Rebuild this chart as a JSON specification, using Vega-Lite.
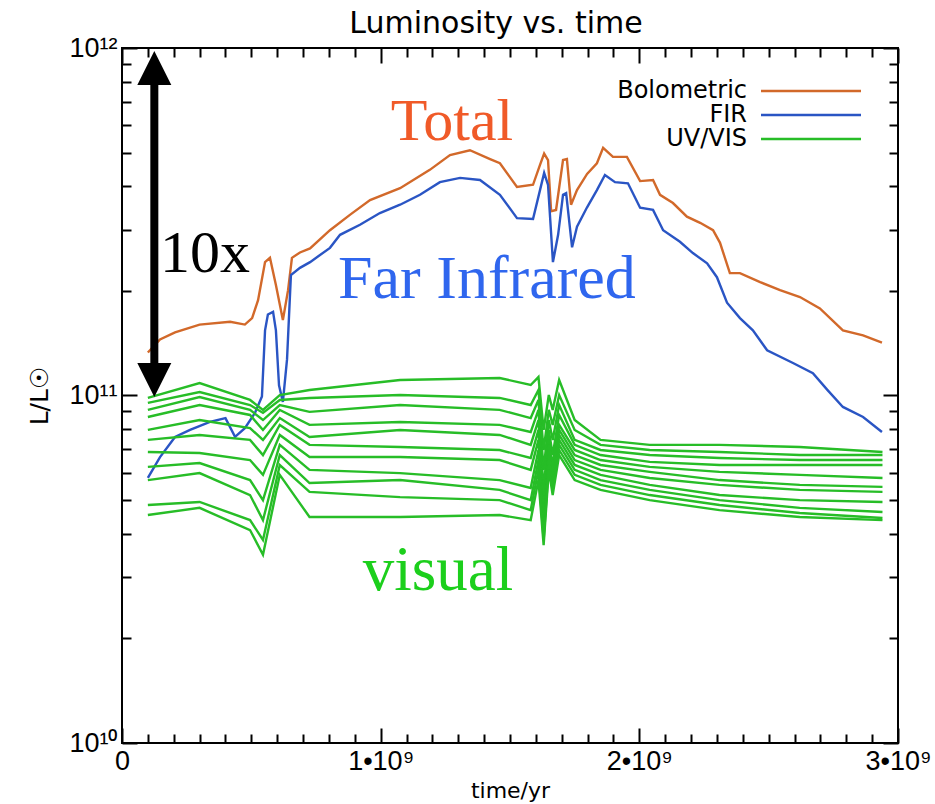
{
  "$schema": "https://vega.github.io/schema/vega-lite/v6.json",
  "width": 776,
  "height": 695,
  "autosize": {"type": "none"},
  "padding": {"left": 122, "top": 48, "right": 37, "bottom": 61},
  "background": "white",
  "title": {"text": "Luminosity vs. time", "font": "DejaVu Sans", "fontSize": 30, "fontWeight": "normal", "color": "black", "offset": -5, "dx": -14, "anchor": "middle"},
  "config": {"view": {"stroke": "black", "strokeWidth": 2}, "font": "DejaVu Sans"},
  "resolve": {"axis": {"x": "independent", "y": "independent"}},
  "layer": [
    {
      "data": {"values": [
        {"series":"Bolometric","band":"B","t":1e8,"L":1.33e11},
        {"series":"Bolometric","band":"B","t":1.47e8,"L":1.45e11},
        {"series":"Bolometric","band":"B","t":2.05e8,"L":1.52e11},
        {"series":"Bolometric","band":"B","t":3.0e8,"L":1.60e11},
        {"series":"Bolometric","band":"B","t":4.18e8,"L":1.63e11},
        {"series":"Bolometric","band":"B","t":4.75e8,"L":1.60e11},
        {"series":"Bolometric","band":"B","t":5.03e8,"L":1.67e11},
        {"series":"Bolometric","band":"B","t":5.26e8,"L":1.88e11},
        {"series":"Bolometric","band":"B","t":5.53e8,"L":2.42e11},
        {"series":"Bolometric","band":"B","t":5.72e8,"L":2.49e11},
        {"series":"Bolometric","band":"B","t":5.95e8,"L":2.08e11},
        {"series":"Bolometric","band":"B","t":6.22e8,"L":1.65e11},
        {"series":"Bolometric","band":"B","t":6.42e8,"L":2.01e11},
        {"series":"Bolometric","band":"B","t":6.57e8,"L":2.49e11},
        {"series":"Bolometric","band":"B","t":6.88e8,"L":2.58e11},
        {"series":"Bolometric","band":"B","t":7.27e8,"L":2.65e11},
        {"series":"Bolometric","band":"B","t":8.04e8,"L":2.99e11},
        {"series":"Bolometric","band":"B","t":8.81e8,"L":3.31e11},
        {"series":"Bolometric","band":"B","t":9.59e8,"L":3.65e11},
        {"series":"Bolometric","band":"B","t":1.075e9,"L":3.95e11},
        {"series":"Bolometric","band":"B","t":1.19e9,"L":4.46e11},
        {"series":"Bolometric","band":"B","t":1.268e9,"L":4.92e11},
        {"series":"Bolometric","band":"B","t":1.345e9,"L":5.08e11},
        {"series":"Bolometric","band":"B","t":1.423e9,"L":4.79e11},
        {"series":"Bolometric","band":"B","t":1.461e9,"L":4.66e11},
        {"series":"Bolometric","band":"B","t":1.527e9,"L":3.98e11},
        {"series":"Bolometric","band":"B","t":1.589e9,"L":4.04e11},
        {"series":"Bolometric","band":"B","t":1.616e9,"L":4.61e11},
        {"series":"Bolometric","band":"B","t":1.632e9,"L":4.97e11},
        {"series":"Bolometric","band":"B","t":1.647e9,"L":4.76e11},
        {"series":"Bolometric","band":"B","t":1.659e9,"L":3.39e11},
        {"series":"Bolometric","band":"B","t":1.678e9,"L":3.42e11},
        {"series":"Bolometric","band":"B","t":1.705e9,"L":4.76e11},
        {"series":"Bolometric","band":"B","t":1.72e9,"L":4.79e11},
        {"series":"Bolometric","band":"B","t":1.736e9,"L":3.54e11},
        {"series":"Bolometric","band":"B","t":1.759e9,"L":3.90e11},
        {"series":"Bolometric","band":"B","t":1.798e9,"L":4.34e11},
        {"series":"Bolometric","band":"B","t":1.836e9,"L":4.66e11},
        {"series":"Bolometric","band":"B","t":1.86e9,"L":5.16e11},
        {"series":"Bolometric","band":"B","t":1.898e9,"L":4.86e11},
        {"series":"Bolometric","band":"B","t":1.952e9,"L":4.86e11},
        {"series":"Bolometric","band":"B","t":2.003e9,"L":4.14e11},
        {"series":"Bolometric","band":"B","t":2.053e9,"L":4.17e11},
        {"series":"Bolometric","band":"B","t":2.08e9,"L":3.78e11},
        {"series":"Bolometric","band":"B","t":2.13e9,"L":3.58e11},
        {"series":"Bolometric","band":"B","t":2.184e9,"L":3.27e11},
        {"series":"Bolometric","band":"B","t":2.235e9,"L":3.14e11},
        {"series":"Bolometric","band":"B","t":2.285e9,"L":2.99e11},
        {"series":"Bolometric","band":"B","t":2.312e9,"L":2.75e11},
        {"series":"Bolometric","band":"B","t":2.35e9,"L":2.25e11},
        {"series":"Bolometric","band":"B","t":2.389e9,"L":2.25e11},
        {"series":"Bolometric","band":"B","t":2.467e9,"L":2.12e11},
        {"series":"Bolometric","band":"B","t":2.544e9,"L":2.01e11},
        {"series":"Bolometric","band":"B","t":2.621e9,"L":1.92e11},
        {"series":"Bolometric","band":"B","t":2.698e9,"L":1.78e11},
        {"series":"Bolometric","band":"B","t":2.787e9,"L":1.54e11},
        {"series":"Bolometric","band":"B","t":2.865e9,"L":1.49e11},
        {"series":"Bolometric","band":"B","t":2.938e9,"L":1.42e11},

        {"series":"FIR","band":"F","t":1e8,"L":5.79e10},
        {"series":"FIR","band":"F","t":1.47e8,"L":6.65e10},
        {"series":"FIR","band":"F","t":2.05e8,"L":7.60e10},
        {"series":"FIR","band":"F","t":2.63e8,"L":7.96e10},
        {"series":"FIR","band":"F","t":3.4e8,"L":8.40e10},
        {"series":"FIR","band":"F","t":4.0e8,"L":8.61e10},
        {"series":"FIR","band":"F","t":4.37e8,"L":7.60e10},
        {"series":"FIR","band":"F","t":4.75e8,"L":8.05e10},
        {"series":"FIR","band":"F","t":5.14e8,"L":8.91e10},
        {"series":"FIR","band":"F","t":5.41e8,"L":9.94e10},
        {"series":"FIR","band":"F","t":5.53e8,"L":1.54e11},
        {"series":"FIR","band":"F","t":5.64e8,"L":1.71e11},
        {"series":"FIR","band":"F","t":5.84e8,"L":1.74e11},
        {"series":"FIR","band":"F","t":5.95e8,"L":1.54e11},
        {"series":"FIR","band":"F","t":6.07e8,"L":1.07e11},
        {"series":"FIR","band":"F","t":6.22e8,"L":9.58e10},
        {"series":"FIR","band":"F","t":6.38e8,"L":1.27e11},
        {"series":"FIR","band":"F","t":6.53e8,"L":2.22e11},
        {"series":"FIR","band":"F","t":6.88e8,"L":2.33e11},
        {"series":"FIR","band":"F","t":7.27e8,"L":2.42e11},
        {"series":"FIR","band":"F","t":8.04e8,"L":2.66e11},
        {"series":"FIR","band":"F","t":8.43e8,"L":2.90e11},
        {"series":"FIR","band":"F","t":9.2e8,"L":3.10e11},
        {"series":"FIR","band":"F","t":9.97e8,"L":3.35e11},
        {"series":"FIR","band":"F","t":1.075e9,"L":3.54e11},
        {"series":"FIR","band":"F","t":1.152e9,"L":3.78e11},
        {"series":"FIR","band":"F","t":1.229e9,"L":4.11e11},
        {"series":"FIR","band":"F","t":1.307e9,"L":4.23e11},
        {"series":"FIR","band":"F","t":1.384e9,"L":4.17e11},
        {"series":"FIR","band":"F","t":1.461e9,"L":3.78e11},
        {"series":"FIR","band":"F","t":1.527e9,"L":3.24e11},
        {"series":"FIR","band":"F","t":1.589e9,"L":3.22e11},
        {"series":"FIR","band":"F","t":1.616e9,"L":3.90e11},
        {"series":"FIR","band":"F","t":1.632e9,"L":4.37e11},
        {"series":"FIR","band":"F","t":1.647e9,"L":4.04e11},
        {"series":"FIR","band":"F","t":1.666e9,"L":2.42e11},
        {"series":"FIR","band":"F","t":1.686e9,"L":2.90e11},
        {"series":"FIR","band":"F","t":1.705e9,"L":3.78e11},
        {"series":"FIR","band":"F","t":1.717e9,"L":3.82e11},
        {"series":"FIR","band":"F","t":1.74e9,"L":2.67e11},
        {"series":"FIR","band":"F","t":1.759e9,"L":3.06e11},
        {"series":"FIR","band":"F","t":1.798e9,"L":3.48e11},
        {"series":"FIR","band":"F","t":1.836e9,"L":3.90e11},
        {"series":"FIR","band":"F","t":1.867e9,"L":4.31e11},
        {"series":"FIR","band":"F","t":1.906e9,"L":4.11e11},
        {"series":"FIR","band":"F","t":1.956e9,"L":4.08e11},
        {"series":"FIR","band":"F","t":2.003e9,"L":3.47e11},
        {"series":"FIR","band":"F","t":2.053e9,"L":3.42e11},
        {"series":"FIR","band":"F","t":2.092e9,"L":2.99e11},
        {"series":"FIR","band":"F","t":2.157e9,"L":2.77e11},
        {"series":"FIR","band":"F","t":2.207e9,"L":2.57e11},
        {"series":"FIR","band":"F","t":2.262e9,"L":2.40e11},
        {"series":"FIR","band":"F","t":2.3e9,"L":2.19e11},
        {"series":"FIR","band":"F","t":2.339e9,"L":1.85e11},
        {"series":"FIR","band":"F","t":2.389e9,"L":1.67e11},
        {"series":"FIR","band":"F","t":2.439e9,"L":1.54e11},
        {"series":"FIR","band":"F","t":2.494e9,"L":1.35e11},
        {"series":"FIR","band":"F","t":2.594e9,"L":1.24e11},
        {"series":"FIR","band":"F","t":2.671e9,"L":1.16e11},
        {"series":"FIR","band":"F","t":2.726e9,"L":1.04e11},
        {"series":"FIR","band":"F","t":2.787e9,"L":9.27e10},
        {"series":"FIR","band":"F","t":2.865e9,"L":8.67e10},
        {"series":"FIR","band":"F","t":2.938e9,"L":7.85e10},

        {"series":"UV/VIS","band":"G1","t":1e8,"L":9.84e10},{"series":"UV/VIS","band":"G1","t":3e8,"L":1.086e11},{"series":"UV/VIS","band":"G1","t":4.95e8,"L":9.71e10},{"series":"UV/VIS","band":"G1","t":5.45e8,"L":9.09e10},{"series":"UV/VIS","band":"G1","t":6.1e8,"L":1.003e11},{"series":"UV/VIS","band":"G1","t":7.25e8,"L":1.037e11},{"series":"UV/VIS","band":"G1","t":1.075e9,"L":1.108e11},{"series":"UV/VIS","band":"G1","t":1.46e9,"L":1.123e11},{"series":"UV/VIS","band":"G1","t":1.58e9,"L":1.072e11},{"series":"UV/VIS","band":"G1","t":1.61e9,"L":1.13e11},{"series":"UV/VIS","band":"G1","t":1.63e9,"L":7.96e10},{"series":"UV/VIS","band":"G1","t":1.65e9,"L":1.003e11},{"series":"UV/VIS","band":"G1","t":1.665e9,"L":9.09e10},{"series":"UV/VIS","band":"G1","t":1.69e9,"L":1.108e11},{"series":"UV/VIS","band":"G1","t":1.75e9,"L":8.5e10},{"series":"UV/VIS","band":"G1","t":1.85e9,"L":7.45e10},{"series":"UV/VIS","band":"G1","t":2.04e9,"L":7.21e10},{"series":"UV/VIS","band":"G1","t":2.31e9,"L":7.21e10},{"series":"UV/VIS","band":"G1","t":2.62e9,"L":7.11e10},{"series":"UV/VIS","band":"G1","t":2.94e9,"L":6.88e10},

        {"series":"UV/VIS","band":"G2","t":1e8,"L":9.52e10},{"series":"UV/VIS","band":"G2","t":3e8,"L":1.023e11},{"series":"UV/VIS","band":"G2","t":4.95e8,"L":9.39e10},{"series":"UV/VIS","band":"G2","t":5.45e8,"L":8.91e10},{"series":"UV/VIS","band":"G2","t":6.1e8,"L":9.71e10},{"series":"UV/VIS","band":"G2","t":7.25e8,"L":9.84e10},{"series":"UV/VIS","band":"G2","t":1.075e9,"L":1.003e11},{"series":"UV/VIS","band":"G2","t":1.46e9,"L":9.84e10},{"series":"UV/VIS","band":"G2","t":1.58e9,"L":9.39e10},{"series":"UV/VIS","band":"G2","t":1.61e9,"L":1.037e11},{"series":"UV/VIS","band":"G2","t":1.63e9,"L":6.97e10},{"series":"UV/VIS","band":"G2","t":1.65e9,"L":9.09e10},{"series":"UV/VIS","band":"G2","t":1.665e9,"L":8.23e10},{"series":"UV/VIS","band":"G2","t":1.69e9,"L":1.003e11},{"series":"UV/VIS","band":"G2","t":1.75e9,"L":7.96e10},{"series":"UV/VIS","band":"G2","t":1.85e9,"L":7.21e10},{"series":"UV/VIS","band":"G2","t":2.04e9,"L":6.97e10},{"series":"UV/VIS","band":"G2","t":2.31e9,"L":6.88e10},{"series":"UV/VIS","band":"G2","t":2.62e9,"L":6.74e10},{"series":"UV/VIS","band":"G2","t":2.94e9,"L":6.74e10},

        {"series":"UV/VIS","band":"G3","t":1e8,"L":9.09e10},{"series":"UV/VIS","band":"G3","t":3e8,"L":9.9e10},{"series":"UV/VIS","band":"G3","t":4.95e8,"L":9.09e10},{"series":"UV/VIS","band":"G3","t":5.45e8,"L":8.5e10},{"series":"UV/VIS","band":"G3","t":6.1e8,"L":9.39e10},{"series":"UV/VIS","band":"G3","t":7.25e8,"L":8.97e10},{"series":"UV/VIS","band":"G3","t":1.075e9,"L":9.39e10},{"series":"UV/VIS","band":"G3","t":1.46e9,"L":9.09e10},{"series":"UV/VIS","band":"G3","t":1.58e9,"L":8.61e10},{"series":"UV/VIS","band":"G3","t":1.61e9,"L":9.71e10},{"series":"UV/VIS","band":"G3","t":1.63e9,"L":6.11e10},{"series":"UV/VIS","band":"G3","t":1.65e9,"L":8.5e10},{"series":"UV/VIS","band":"G3","t":1.665e9,"L":7.45e10},{"series":"UV/VIS","band":"G3","t":1.69e9,"L":9.39e10},{"series":"UV/VIS","band":"G3","t":1.75e9,"L":7.45e10},{"series":"UV/VIS","band":"G3","t":1.85e9,"L":6.97e10},{"series":"UV/VIS","band":"G3","t":2.04e9,"L":6.74e10},{"series":"UV/VIS","band":"G3","t":2.31e9,"L":6.61e10},{"series":"UV/VIS","band":"G3","t":2.62e9,"L":6.52e10},{"series":"UV/VIS","band":"G3","t":2.94e9,"L":6.52e10},

        {"series":"UV/VIS","band":"G4","t":1e8,"L":8.67e10},{"series":"UV/VIS","band":"G4","t":3e8,"L":9.39e10},{"series":"UV/VIS","band":"G4","t":4.95e8,"L":8.79e10},{"series":"UV/VIS","band":"G4","t":5.45e8,"L":7.96e10},{"series":"UV/VIS","band":"G4","t":6.1e8,"L":9.09e10},{"series":"UV/VIS","band":"G4","t":7.25e8,"L":8.23e10},{"series":"UV/VIS","band":"G4","t":1.075e9,"L":8.39e10},{"series":"UV/VIS","band":"G4","t":1.46e9,"L":8.23e10},{"series":"UV/VIS","band":"G4","t":1.58e9,"L":7.85e10},{"series":"UV/VIS","band":"G4","t":1.61e9,"L":9.09e10},{"series":"UV/VIS","band":"G4","t":1.63e9,"L":5.35e10},{"series":"UV/VIS","band":"G4","t":1.65e9,"L":7.96e10},{"series":"UV/VIS","band":"G4","t":1.665e9,"L":6.74e10},{"series":"UV/VIS","band":"G4","t":1.69e9,"L":8.79e10},{"series":"UV/VIS","band":"G4","t":1.75e9,"L":7.21e10},{"series":"UV/VIS","band":"G4","t":1.85e9,"L":6.74e10},{"series":"UV/VIS","band":"G4","t":2.04e9,"L":6.44e10},{"series":"UV/VIS","band":"G4","t":2.31e9,"L":6.31e10},{"series":"UV/VIS","band":"G4","t":2.62e9,"L":6.31e10},{"series":"UV/VIS","band":"G4","t":2.94e9,"L":6.31e10},

        {"series":"UV/VIS","band":"G5","t":1e8,"L":7.96e10},{"series":"UV/VIS","band":"G5","t":3e8,"L":8.5e10},{"series":"UV/VIS","band":"G5","t":4.95e8,"L":8.06e10},{"series":"UV/VIS","band":"G5","t":5.45e8,"L":7.45e10},{"series":"UV/VIS","band":"G5","t":6.1e8,"L":8.61e10},{"series":"UV/VIS","band":"G5","t":7.25e8,"L":7.6e10},{"series":"UV/VIS","band":"G5","t":1.075e9,"L":7.96e10},{"series":"UV/VIS","band":"G5","t":1.46e9,"L":7.7e10},{"series":"UV/VIS","band":"G5","t":1.58e9,"L":7.21e10},{"series":"UV/VIS","band":"G5","t":1.61e9,"L":8.5e10},{"series":"UV/VIS","band":"G5","t":1.63e9,"L":4.84e10},{"series":"UV/VIS","band":"G5","t":1.65e9,"L":7.45e10},{"series":"UV/VIS","band":"G5","t":1.665e9,"L":6.31e10},{"series":"UV/VIS","band":"G5","t":1.69e9,"L":8.23e10},{"series":"UV/VIS","band":"G5","t":1.75e9,"L":6.97e10},{"series":"UV/VIS","band":"G5","t":1.85e9,"L":6.52e10},{"series":"UV/VIS","band":"G5","t":2.04e9,"L":6.23e10},{"series":"UV/VIS","band":"G5","t":2.31e9,"L":6.03e10},{"series":"UV/VIS","band":"G5","t":2.62e9,"L":5.91e10},{"series":"UV/VIS","band":"G5","t":2.94e9,"L":5.79e10},

        {"series":"UV/VIS","band":"G6","t":1e8,"L":7.45e10},{"series":"UV/VIS","band":"G6","t":3e8,"L":7.7e10},{"series":"UV/VIS","band":"G6","t":4.95e8,"L":7.45e10},{"series":"UV/VIS","band":"G6","t":5.45e8,"L":6.74e10},{"series":"UV/VIS","band":"G6","t":6.1e8,"L":8.23e10},{"series":"UV/VIS","band":"G6","t":7.25e8,"L":7.21e10},{"series":"UV/VIS","band":"G6","t":1.075e9,"L":7.11e10},{"series":"UV/VIS","band":"G6","t":1.46e9,"L":6.97e10},{"series":"UV/VIS","band":"G6","t":1.58e9,"L":6.61e10},{"series":"UV/VIS","band":"G6","t":1.61e9,"L":7.96e10},{"series":"UV/VIS","band":"G6","t":1.63e9,"L":4.53e10},{"series":"UV/VIS","band":"G6","t":1.65e9,"L":7.21e10},{"series":"UV/VIS","band":"G6","t":1.665e9,"L":6.11e10},{"series":"UV/VIS","band":"G6","t":1.69e9,"L":7.96e10},{"series":"UV/VIS","band":"G6","t":1.75e9,"L":6.74e10},{"series":"UV/VIS","band":"G6","t":1.85e9,"L":6.31e10},{"series":"UV/VIS","band":"G6","t":2.04e9,"L":6.03e10},{"series":"UV/VIS","band":"G6","t":2.31e9,"L":5.71e10},{"series":"UV/VIS","band":"G6","t":2.62e9,"L":5.53e10},{"series":"UV/VIS","band":"G6","t":2.94e9,"L":5.46e10},

        {"series":"UV/VIS","band":"G7","t":1e8,"L":6.88e10},{"series":"UV/VIS","band":"G7","t":3e8,"L":6.83e10},{"series":"UV/VIS","band":"G7","t":4.95e8,"L":6.52e10},{"series":"UV/VIS","band":"G7","t":5.45e8,"L":5.91e10},{"series":"UV/VIS","band":"G7","t":6.1e8,"L":7.7e10},{"series":"UV/VIS","band":"G7","t":7.25e8,"L":6.65e10},{"series":"UV/VIS","band":"G7","t":1.075e9,"L":6.65e10},{"series":"UV/VIS","band":"G7","t":1.46e9,"L":6.52e10},{"series":"UV/VIS","band":"G7","t":1.58e9,"L":6.11e10},{"series":"UV/VIS","band":"G7","t":1.61e9,"L":7.45e10},{"series":"UV/VIS","band":"G7","t":1.63e9,"L":4.24e10},{"series":"UV/VIS","band":"G7","t":1.65e9,"L":6.97e10},{"series":"UV/VIS","band":"G7","t":1.665e9,"L":5.91e10},{"series":"UV/VIS","band":"G7","t":1.69e9,"L":7.7e10},{"series":"UV/VIS","band":"G7","t":1.75e9,"L":6.52e10},{"series":"UV/VIS","band":"G7","t":1.85e9,"L":6.11e10},{"series":"UV/VIS","band":"G7","t":2.04e9,"L":5.79e10},{"series":"UV/VIS","band":"G7","t":2.31e9,"L":5.53e10},{"series":"UV/VIS","band":"G7","t":2.62e9,"L":5.35e10},{"series":"UV/VIS","band":"G7","t":2.94e9,"L":5.28e10},

        {"series":"UV/VIS","band":"G8","t":1e8,"L":6.23e10},{"series":"UV/VIS","band":"G8","t":3e8,"L":6.39e10},{"series":"UV/VIS","band":"G8","t":4.95e8,"L":5.71e10},{"series":"UV/VIS","band":"G8","t":5.45e8,"L":5.0e10},{"series":"UV/VIS","band":"G8","t":6.1e8,"L":7.21e10},{"series":"UV/VIS","band":"G8","t":7.25e8,"L":6.11e10},{"series":"UV/VIS","band":"G8","t":1.075e9,"L":5.98e10},{"series":"UV/VIS","band":"G8","t":1.46e9,"L":5.71e10},{"series":"UV/VIS","band":"G8","t":1.58e9,"L":5.42e10},{"series":"UV/VIS","band":"G8","t":1.61e9,"L":6.97e10},{"series":"UV/VIS","band":"G8","t":1.63e9,"L":4.1e10},{"series":"UV/VIS","band":"G8","t":1.65e9,"L":6.74e10},{"series":"UV/VIS","band":"G8","t":1.665e9,"L":5.71e10},{"series":"UV/VIS","band":"G8","t":1.69e9,"L":7.45e10},{"series":"UV/VIS","band":"G8","t":1.75e9,"L":6.31e10},{"series":"UV/VIS","band":"G8","t":1.85e9,"L":5.91e10},{"series":"UV/VIS","band":"G8","t":2.04e9,"L":5.53e10},{"series":"UV/VIS","band":"G8","t":2.31e9,"L":5.17e10},{"series":"UV/VIS","band":"G8","t":2.62e9,"L":5.0e10},{"series":"UV/VIS","band":"G8","t":2.94e9,"L":4.94e10},

        {"series":"UV/VIS","band":"G9","t":1e8,"L":5.71e10},{"series":"UV/VIS","band":"G9","t":3e8,"L":5.98e10},{"series":"UV/VIS","band":"G9","t":4.95e8,"L":5.17e10},{"series":"UV/VIS","band":"G9","t":5.45e8,"L":4.38e10},{"series":"UV/VIS","band":"G9","t":6.1e8,"L":6.74e10},{"series":"UV/VIS","band":"G9","t":7.25e8,"L":5.6e10},{"series":"UV/VIS","band":"G9","t":1.075e9,"L":5.71e10},{"series":"UV/VIS","band":"G9","t":1.46e9,"L":5.35e10},{"series":"UV/VIS","band":"G9","t":1.58e9,"L":5.0e10},{"series":"UV/VIS","band":"G9","t":1.61e9,"L":6.52e10},{"series":"UV/VIS","band":"G9","t":1.63e9,"L":3.97e10},{"series":"UV/VIS","band":"G9","t":1.65e9,"L":6.52e10},{"series":"UV/VIS","band":"G9","t":1.665e9,"L":5.53e10},{"series":"UV/VIS","band":"G9","t":1.69e9,"L":7.21e10},{"series":"UV/VIS","band":"G9","t":1.75e9,"L":6.11e10},{"series":"UV/VIS","band":"G9","t":1.85e9,"L":5.71e10},{"series":"UV/VIS","band":"G9","t":2.04e9,"L":5.35e10},{"series":"UV/VIS","band":"G9","t":2.31e9,"L":5.0e10},{"series":"UV/VIS","band":"G9","t":2.62e9,"L":4.75e10},{"series":"UV/VIS","band":"G9","t":2.94e9,"L":4.62e10},

        {"series":"UV/VIS","band":"G10","t":1e8,"L":4.84e10},{"series":"UV/VIS","band":"G10","t":3e8,"L":4.94e10},{"series":"UV/VIS","band":"G10","t":4.95e8,"L":4.38e10},{"series":"UV/VIS","band":"G10","t":5.45e8,"L":3.84e10},{"series":"UV/VIS","band":"G10","t":6.1e8,"L":6.31e10},{"series":"UV/VIS","band":"G10","t":7.25e8,"L":5.28e10},{"series":"UV/VIS","band":"G10","t":1.075e9,"L":5.1e10},{"series":"UV/VIS","band":"G10","t":1.46e9,"L":5.0e10},{"series":"UV/VIS","band":"G10","t":1.58e9,"L":4.68e10},{"series":"UV/VIS","band":"G10","t":1.61e9,"L":6.11e10},{"series":"UV/VIS","band":"G10","t":1.63e9,"L":3.84e10},{"series":"UV/VIS","band":"G10","t":1.65e9,"L":6.31e10},{"series":"UV/VIS","band":"G10","t":1.665e9,"L":5.35e10},{"series":"UV/VIS","band":"G10","t":1.69e9,"L":6.97e10},{"series":"UV/VIS","band":"G10","t":1.75e9,"L":5.91e10},{"series":"UV/VIS","band":"G10","t":1.85e9,"L":5.53e10},{"series":"UV/VIS","band":"G10","t":2.04e9,"L":5.17e10},{"series":"UV/VIS","band":"G10","t":2.31e9,"L":4.84e10},{"series":"UV/VIS","band":"G10","t":2.62e9,"L":4.59e10},{"series":"UV/VIS","band":"G10","t":2.94e9,"L":4.44e10},

        {"series":"UV/VIS","band":"G11","t":1e8,"L":4.53e10},{"series":"UV/VIS","band":"G11","t":3e8,"L":4.75e10},{"series":"UV/VIS","band":"G11","t":4.95e8,"L":4.1e10},{"series":"UV/VIS","band":"G11","t":5.45e8,"L":3.48e10},{"series":"UV/VIS","band":"G11","t":6.1e8,"L":5.91e10},{"series":"UV/VIS","band":"G11","t":7.25e8,"L":4.47e10},{"series":"UV/VIS","band":"G11","t":1.075e9,"L":4.47e10},{"series":"UV/VIS","band":"G11","t":1.46e9,"L":4.53e10},{"series":"UV/VIS","band":"G11","t":1.58e9,"L":4.38e10},{"series":"UV/VIS","band":"G11","t":1.61e9,"L":5.71e10},{"series":"UV/VIS","band":"G11","t":1.63e9,"L":3.71e10},{"series":"UV/VIS","band":"G11","t":1.65e9,"L":6.11e10},{"series":"UV/VIS","band":"G11","t":1.665e9,"L":5.17e10},{"series":"UV/VIS","band":"G11","t":1.69e9,"L":6.74e10},{"series":"UV/VIS","band":"G11","t":1.75e9,"L":5.71e10},{"series":"UV/VIS","band":"G11","t":1.85e9,"L":5.35e10},{"series":"UV/VIS","band":"G11","t":2.04e9,"L":5.0e10},{"series":"UV/VIS","band":"G11","t":2.31e9,"L":4.68e10},{"series":"UV/VIS","band":"G11","t":2.62e9,"L":4.47e10},{"series":"UV/VIS","band":"G11","t":2.94e9,"L":4.38e10}
      ]},
      "mark": {"type": "line", "strokeWidth": 2.4, "interpolate": "linear"},
      "encoding": {
        "x": {"field": "t", "type": "quantitative", "scale": {"domain": [0, 3000000000], "nice": false, "zero": false},
          "axis": {"orient": "bottom", "values": [0,1e8,2e8,3e8,4e8,5e8,6e8,7e8,8e8,9e8,1e9,1.1e9,1.2e9,1.3e9,1.4e9,1.5e9,1.6e9,1.7e9,1.8e9,1.9e9,2e9,2.1e9,2.2e9,2.3e9,2.4e9,2.5e9,2.6e9,2.7e9,2.8e9,2.9e9,3e9],
            "labelExpr": "datum.value % 1000000000 === 0 ? (datum.value === 0 ? '0' : (datum.value / 1000000000) + '•10⁹') : ''",
            "tickSize": {"condition": {"test": "datum.value % 1000000000 === 0", "value": -15}, "value": -9},
            "tickColor": "black", "tickWidth": 2, "domain": false, "grid": false,
            "labelFont": "Liberation Sans", "labelFontSize": 27, "labelColor": "black", "labelPadding": 20,
            "labelOverlap": false, "labelFlush": false, "labelBound": false,
            "title": "time/yr", "titleFont": "DejaVu Sans", "titleFontSize": 22, "titleFontWeight": "normal", "titleColor": "black", "titlePadding": 0}},
        "y": {"field": "L", "type": "quantitative", "scale": {"type": "log", "domain": [10000000000, 1000000000000], "nice": false},
          "axis": {"orient": "left", "values": [1e10,2e10,3e10,4e10,5e10,6e10,7e10,8e10,9e10,1e11,2e11,3e11,4e11,5e11,6e11,7e11,8e11,9e11,1e12],
            "labelExpr": "datum.value == 1e10 ? '10¹⁰' : datum.value == 1e11 ? '10¹¹' : datum.value == 1e12 ? '10¹²' : ''",
            "tickSize": {"condition": {"test": "datum.value == 1e10 || datum.value == 1e11 || datum.value == 1e12", "value": -15}, "value": -9},
            "tickColor": "black", "tickWidth": 2, "domain": false, "grid": false,
            "labelFont": "Liberation Sans", "labelFontSize": 27, "labelColor": "black", "labelPadding": 20,
            "labelOverlap": false, "labelFlush": false, "labelBound": false,
            "title": "L/L☉", "titleFont": "DejaVu Sans", "titleFontSize": 25, "titleFontWeight": "normal", "titleColor": "black", "titlePadding": 16}},
        "color": {"field": "series", "type": "nominal",
          "scale": {"domain": ["Bolometric", "FIR", "UV/VIS"], "range": ["#d2692a", "#2a55c4", "#27bd27"]},
          "legend": {"orient": "none", "legendX": 677, "legendY": 31, "title": null, "padding": 0,
            "symbolType": "M-5,0L5,0", "symbolSize": 400, "symbolStrokeWidth": 2.5,
            "labelFont": "DejaVu Sans", "labelFontSize": 24, "labelColor": "black", "labelAlign": "right", "labelOffset": -76, "rowPadding": 0}},
        "detail": {"field": "band", "type": "nominal"}
      }
    },
    {
      "data": {"values": [{"t": 125000000, "L": 809000000000, "L2": 122400000000}]},
      "mark": {"type": "rule", "strokeWidth": 8, "color": "black"},
      "encoding": {
        "x": {"field": "t", "type": "quantitative",
          "axis": {"orient": "top", "values": [0,1e8,2e8,3e8,4e8,5e8,6e8,7e8,8e8,9e8,1e9,1.1e9,1.2e9,1.3e9,1.4e9,1.5e9,1.6e9,1.7e9,1.8e9,1.9e9,2e9,2.1e9,2.2e9,2.3e9,2.4e9,2.5e9,2.6e9,2.7e9,2.8e9,2.9e9,3e9],
            "labels": false, "title": null, "domain": false, "grid": false, "tickColor": "black", "tickWidth": 2,
            "tickSize": {"condition": {"test": "datum.value % 1000000000 === 0", "value": -15}, "value": -9}}},
        "y": {"field": "L", "type": "quantitative",
          "axis": {"orient": "right", "values": [1e10,2e10,3e10,4e10,5e10,6e10,7e10,8e10,9e10,1e11,2e11,3e11,4e11,5e11,6e11,7e11,8e11,9e11,1e12],
            "labels": false, "title": null, "domain": false, "grid": false, "tickColor": "black", "tickWidth": 2,
            "tickSize": {"condition": {"test": "datum.value == 1e10 || datum.value == 1e11 || datum.value == 1e12", "value": -15}, "value": -9}}},
        "y2": {"field": "L2"}
      }
    },
    {
      "data": {"values": [{"t": 125000000, "L": 980000000000}]},
      "mark": {"type": "point", "shape": "M0,0L-1,2L1,2Z", "size": 1156, "filled": true, "color": "black", "opacity": 1},
      "encoding": {
        "x": {"field": "t", "type": "quantitative", "axis": null},
        "y": {"field": "L", "type": "quantitative", "axis": null}
      }
    },
    {
      "data": {"values": [{"t": 125000000, "L": 99000000000}]},
      "mark": {"type": "point", "shape": "M0,0L-1,-2L1,-2Z", "size": 1156, "filled": true, "color": "black", "opacity": 1},
      "encoding": {
        "x": {"field": "t", "type": "quantitative", "axis": null},
        "y": {"field": "L", "type": "quantitative", "axis": null}
      }
    },
    {
      "data": {"values": [{"t": 1276000000, "L": 544000000000, "label": "Total"}]},
      "mark": {"type": "text", "font": "Liberation Serif", "fontSize": 60, "color": "#f05a28", "align": "center", "baseline": "alphabetic"},
      "encoding": {
        "x": {"field": "t", "type": "quantitative", "axis": null},
        "y": {"field": "L", "type": "quantitative", "axis": null},
        "text": {"field": "label"}
      }
    },
    {
      "data": {"values": [{"t": 321000000, "L": 227000000000, "label": "10x"}]},
      "mark": {"type": "text", "font": "Liberation Serif", "fontSize": 60, "color": "black", "align": "center", "baseline": "alphabetic"},
      "encoding": {
        "x": {"field": "t", "type": "quantitative", "axis": null},
        "y": {"field": "L", "type": "quantitative", "axis": null},
        "text": {"field": "label"}
      }
    },
    {
      "data": {"values": [{"t": 1411000000, "L": 191000000000, "label": "Far Infrared"}]},
      "mark": {"type": "text", "font": "Liberation Serif", "fontSize": 62, "color": "#2f66ee", "align": "center", "baseline": "alphabetic"},
      "encoding": {
        "x": {"field": "t", "type": "quantitative", "axis": null},
        "y": {"field": "L", "type": "quantitative", "axis": null},
        "text": {"field": "label"}
      }
    },
    {
      "data": {"values": [{"t": 1222000000, "L": 27600000000, "label": "visual"}]},
      "mark": {"type": "text", "font": "Liberation Serif", "fontSize": 63, "color": "#1ccf1c", "align": "center", "baseline": "alphabetic"},
      "encoding": {
        "x": {"field": "t", "type": "quantitative", "axis": null},
        "y": {"field": "L", "type": "quantitative", "axis": null},
        "text": {"field": "label"}
      }
    }
  ]
}
